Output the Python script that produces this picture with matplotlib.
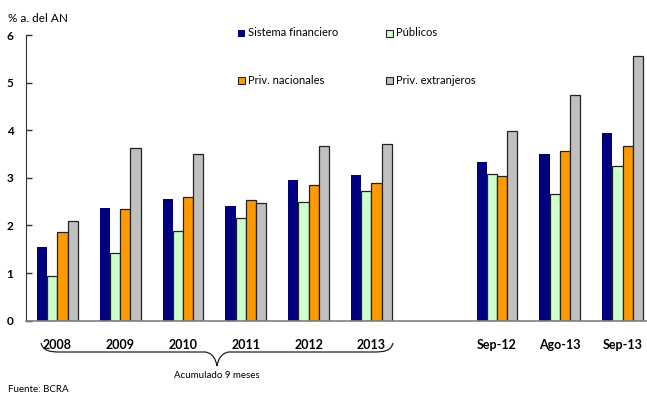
import matplotlib
matplotlib.use("Agg")
import matplotlib.pyplot as plt
import numpy as np
from matplotlib.patches import Rectangle, PathPatch
from matplotlib.path import Path

plt.rcParams["font.family"] = ["Lato", "DejaVu Sans"]

# periods: six 9-month accumulations, then three monthly points after a gap
periods = ["2008", "2009", "2010", "2011", "2012", "2013", "Sep-12", "Ago-13", "Sep-13"]
slots = [0, 1, 2, 3, 4, 5, 7, 8, 9]

sistema = [1.55, 2.37, 2.56, 2.40, 2.95, 3.05, 3.34, 3.51, 3.95]
publicos = [0.94, 1.43, 1.88, 2.16, 2.49, 2.73, 3.09, 2.66, 3.24]
priv_nac = [1.86, 2.35, 2.59, 2.53, 2.84, 2.90, 3.03, 3.57, 3.66]
priv_ext = [2.09, 3.63, 3.51, 2.47, 3.67, 3.71, 3.98, 4.74, 5.55]

series = [
    ("Sistema financiero", sistema, "#000080", "none"),
    ("Públicos", publicos, "#ccffcc", "#222222"),
    ("Priv. nacionales", priv_nac, "#ff9900", "#222222"),
    ("Priv. extranjeros", priv_ext, "#c0c0c0", "#222222"),
]

W, H = 647, 394
fig = plt.figure(figsize=(W / 100, H / 100), dpi=100)
ax = fig.add_axes([26 / W, 73.3 / H, 621 / W, 285.7 / H])

bw = 0.163
x = np.array(slots, dtype=float)
for i, (name, vals, col, ec) in enumerate(series):
    ax.bar(x + (i - 1.5) * bw, vals, width=bw, color=col,
           edgecolor=ec, linewidth=0.9 if ec != "none" else 0, zorder=2)

ax.set_xlim(-0.5, -0.5 + 621 / 62.8)
ax.set_ylim(0, 6)
ax.set_yticks(range(7))
ax.set_yticklabels([str(v) for v in range(7)], fontweight="bold", fontsize=8.5)
ax.tick_params(axis="y", direction="in", length=4, width=1, pad=9, color="#333333")
ax.set_xticks(slots)
ax.set_xticklabels(periods, fontweight="bold", fontsize=9)
ax.tick_params(axis="x", length=0, pad=13)

for s in ("top", "right"):
    ax.spines[s].set_visible(False)
ax.spines["left"].set_color("#333333")
ax.spines["bottom"].set_color("#808080")
ax.spines["bottom"].set_linewidth(1.2)

# legend drawn by hand: two columns, wide row spacing
leg_pos = [(238, 33), (386, 33), (238, 80.5), (386, 80.5)]
for (name, vals, col, ec), (px, py) in zip(series, leg_pos):
    fig.patches.append(Rectangle((px / W, 1 - (py + 3.5) / H), 7 / W, 7 / H,
                                 transform=fig.transFigure, facecolor=col,
                                 edgecolor=ec, linewidth=0.8 if ec != "none" else 0))
    fig.text((px + 10) / W, 1 - py / H, name, fontsize=8, va="center", ha="left")

fig.text(8 / W, 1 - 18 / H, "% a. del AN", fontsize=8.5, va="center", ha="left")

# brace under the yearly groups
def fp(px, py):
    return (px / W, 1 - py / H)

verts = [fp(41, 343), fp(43, 351), fp(50, 352), fp(60, 352),
         fp(200, 352), fp(200, 352), fp(205, 352),
         fp(213, 353), fp(216, 360), fp(217, 366),
         fp(218, 360), fp(221, 353), fp(229, 352),
         fp(234, 352), fp(234, 352), fp(374, 352),
         fp(384, 352), fp(391, 351), fp(393, 343)]
codes = [Path.MOVETO, Path.CURVE4, Path.CURVE4, Path.CURVE4,
         Path.LINETO, Path.LINETO, Path.LINETO,
         Path.CURVE4, Path.CURVE4, Path.CURVE4,
         Path.CURVE4, Path.CURVE4, Path.CURVE4,
         Path.LINETO, Path.LINETO, Path.LINETO,
         Path.CURVE4, Path.CURVE4, Path.CURVE4]
fig.patches.append(PathPatch(Path(verts, codes), transform=fig.transFigure,
                             facecolor="none", edgecolor="#222222", linewidth=0.9))

fig.text(217 / W, 1 - 376 / H, "Acumulado 9 meses", fontsize=7, ha="center", va="center")
fig.text(8 / W, 1 - 389 / H, "Fuente: BCRA", fontsize=7, ha="left", va="center")

fig.savefig("out.png", dpi=100)
